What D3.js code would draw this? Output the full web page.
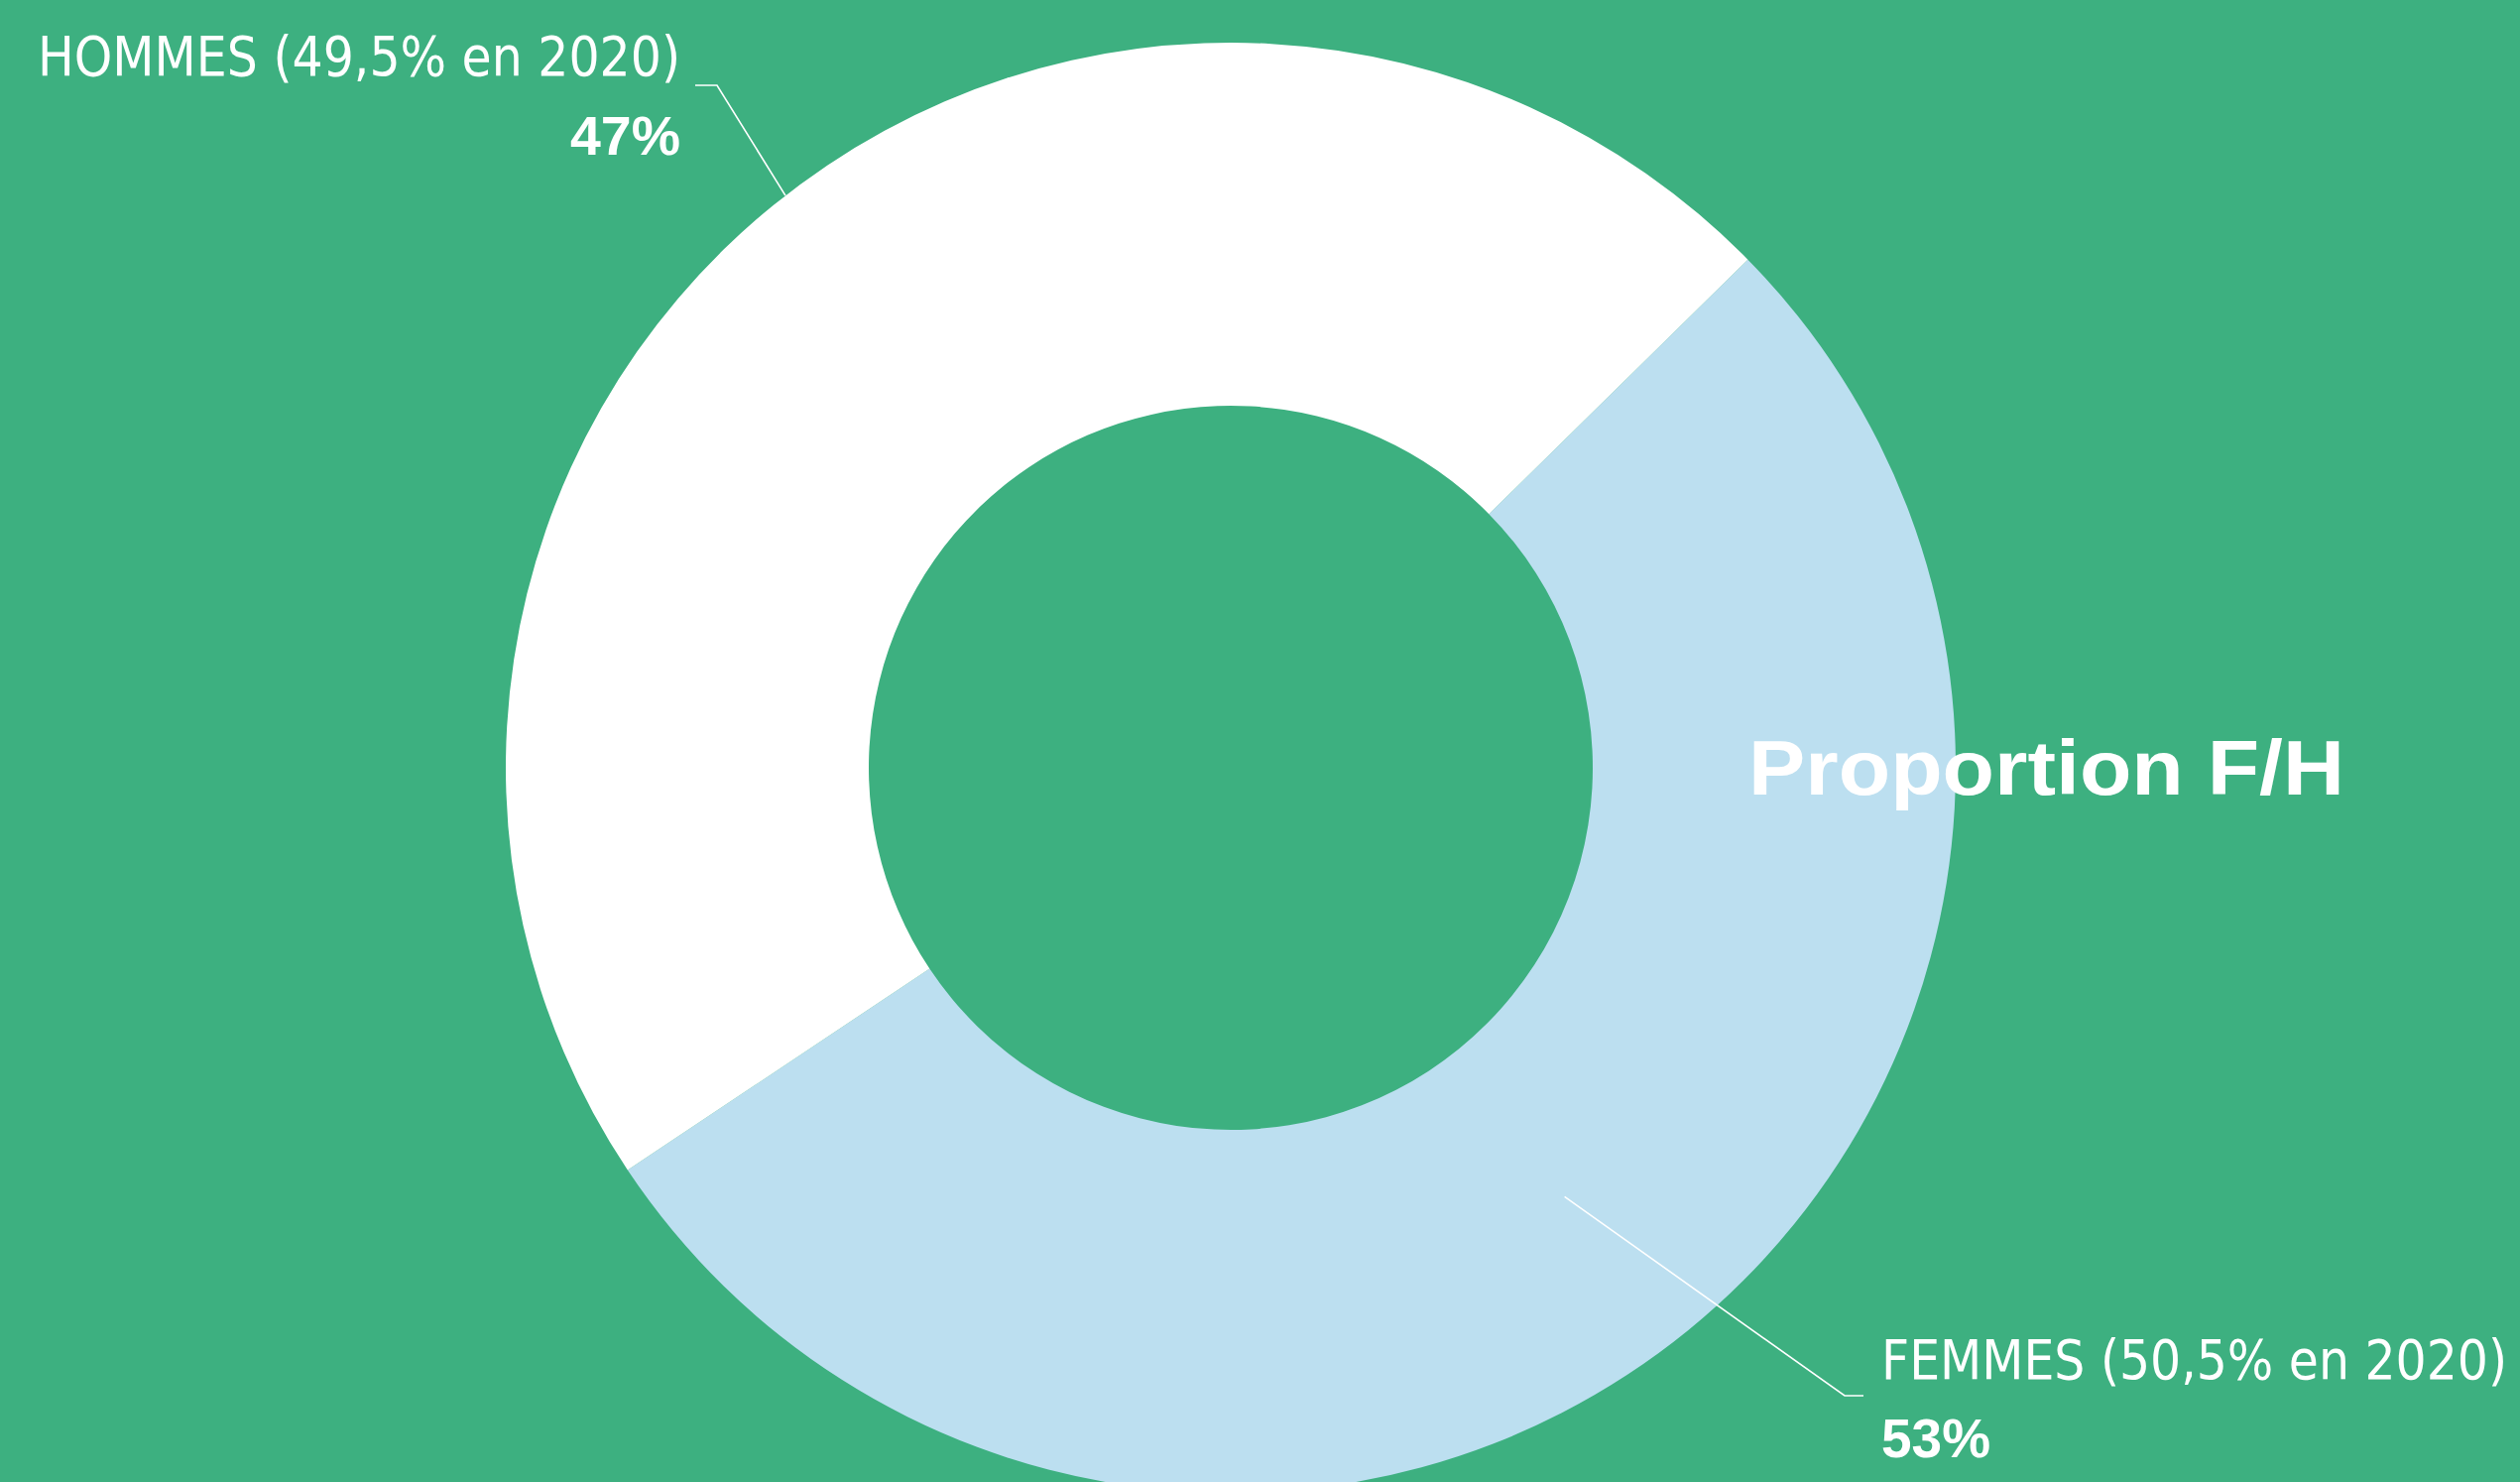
<!DOCTYPE html>
<html>
<head>
<meta charset="utf-8">
<script src="https://cdnjs.cloudflare.com/ajax/libs/d3/7.8.5/d3.min.js"></script>
<style>
  html, body { margin: 0; padding: 0; background: #3db080; overflow: hidden; }
  svg { display: block; }
  .lbl { font-family: "Liberation Sans Narrow", "DejaVu Sans Condensed", sans-serif; fill: #fff; }
  .pct, .title { font-family: "Liberation Sans", Arial, sans-serif; font-weight: bold; fill: #fff; }
</style>
</head>
<body>
<svg width="2541" height="1494"></svg>
<script>
// data
var categories = ["FEMMES", "HOMMES"];
var shares = [53, 47];
var pctLabels = ["53%", "47%"];
var labels2020 = ["FEMMES (50,5% en 2020)", "HOMMES (49,5% en 2020)"];
var colors = ["#bcdff0", "#ffffff"];
var title = "Proportion F/H";

var svg = d3.select("svg"),
    width = +svg.attr("width"),
    height = +svg.attr("height");

var cx = 1241, cy = 774,
    rOuter = 731, rInner = 365;

var rad = Math.PI / 180;

svg.append("rect")
    .attr("width", width)
    .attr("height", height)
    .attr("fill", "#3db080");

var pie = d3.pie()
    .sort(null)
    .value(function(d) { return d; })
    .startAngle(45.5 * rad)
    .endAngle(405.5 * rad);

var arc = d3.arc()
    .innerRadius(rInner)
    .outerRadius(rOuter);

var arcs = pie(shares);

var g = svg.append("g")
    .attr("transform", "translate(" + cx + "," + cy + ")");

g.selectAll("path")
    .data(arcs)
  .enter().append("path")
    .attr("d", arc)
    .attr("fill", function(d, i) { return colors[i]; });

// leader lines: anchor radius per slice (femmes mid-ring, hommes outer edge)
var anchorR = [(rInner + rOuter) / 2, rOuter];
var nudge = 1.2 * rad;

// label layout: elbow point, end x, text positions and widths
var layout = [
  {elbow: [1860, 1407], end: 1879, tx: 1897, ty: 1390, py: 1469, anchor: "start", w: 631, pw: 110},
  {elbow: [723, 86], end: 701, tx: 686, ty: 76, py: 156, anchor: "end", w: 648, pw: 111}
];

arcs.forEach(function(d, i) {
  var a = (d.startAngle + d.endAngle) / 2 + nudge;
  var sx = cx + anchorR[i] * Math.sin(a),
      sy = cy - anchorR[i] * Math.cos(a);
  var L = layout[i];
  svg.append("polyline")
      .attr("points", [[sx, sy], L.elbow, [L.end, L.elbow[1]]].map(function(p) { return p.join(","); }).join(" "))
      .attr("fill", "none")
      .attr("stroke", "#fff")
      .attr("stroke-width", 1.6);

  svg.append("text")
      .attr("class", "lbl")
      .attr("x", L.tx)
      .attr("y", L.ty)
      .attr("text-anchor", L.anchor)
      .attr("font-size", 56)
      .attr("textLength", L.w)
      .attr("lengthAdjust", "spacingAndGlyphs")
      .text(labels2020[i]);

  svg.append("text")
      .attr("class", "pct")
      .attr("x", L.tx)
      .attr("y", L.py)
      .attr("text-anchor", L.anchor)
      .attr("font-size", 56)
      .attr("textLength", L.pw)
      .attr("lengthAdjust", "spacingAndGlyphs")
      .text(pctLabels[i]);
});

svg.append("text")
    .attr("class", "title")
    .attr("x", 1763)
    .attr("y", 801)
    .attr("font-size", 78)
    .attr("textLength", 601)
    .attr("lengthAdjust", "spacingAndGlyphs")
    .text(title);
</script>
</body>
</html>
